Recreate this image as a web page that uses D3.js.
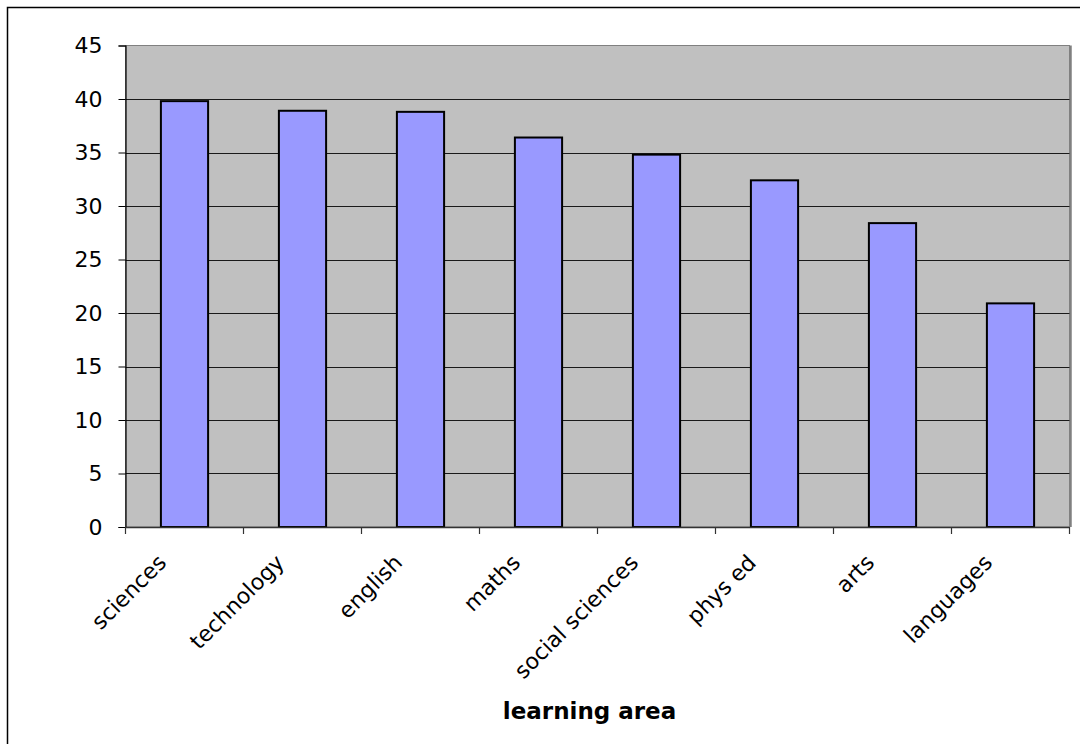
<!DOCTYPE html>
<html><head><meta charset="utf-8">
<script src="https://cdn.jsdelivr.net/npm/d3@7"></script>
<style>body{margin:0;background:#fff;}svg{display:block;}text{font-family:"DejaVu Sans",Verdana,sans-serif;}</style>
</head><body>
<svg id="c" width="1080" height="744"></svg>
<script>
const categories = ["sciences","technology","english","maths","social sciences","phys ed","arts","languages"];
const values = [39.8, 38.9, 38.8, 36.4, 34.8, 32.4, 28.4, 20.9];
const yTicks = [0,5,10,15,20,25,30,35,40,45];
const xTitle = "learning area";

const svg = d3.select("#c");
const L = 125.5, R = 1069.5, T = 45.5, B = 527;

svg.append("rect").attr("x",7.5).attr("y",7.5).attr("width",1200).attr("height",900)
  .attr("fill","#fff").attr("stroke","#000").attr("stroke-width",1.5);

const x = d3.scaleBand().domain(categories).range([L,R]).paddingInner(0.6).paddingOuter(0.3);
const y = d3.scaleLinear().domain([0,45]).range([B,T]);

// plot area
svg.append("rect").attr("x",L).attr("y",T).attr("width",R-L).attr("height",B-T)
  .attr("fill","#c0c0c0").attr("stroke","#808080").attr("stroke-width",1);
svg.append("line").attr("x1",R+1).attr("x2",R+1).attr("y1",T).attr("y2",B)
  .attr("stroke","#808080").attr("stroke-width",2.5);

// gridlines
svg.append("g").selectAll("line").data(yTicks.filter(d=>d>0 && d<45)).join("line")
  .attr("x1",L).attr("x2",R).attr("y1",d=>Math.round(y(d))+0.5).attr("y2",d=>Math.round(y(d))+0.5)
  .attr("stroke","#1a1a1a").attr("stroke-width",1);

// bars
svg.append("g").selectAll("rect").data(values).join("rect")
  .attr("x",(d,i)=>x(categories[i])).attr("width",x.bandwidth())
  .attr("y",d=>y(d)).attr("height",d=>B-y(d))
  .attr("fill","#9999ff").attr("stroke","#000").attr("stroke-width",2);

// y axis
const ya = svg.append("g").attr("transform",`translate(${L},0)`)
  .call(d3.axisLeft(y).tickValues(yTicks).tickSize(7).tickPadding(16).tickFormat(d3.format("d")));
ya.select(".domain").attr("stroke","#000").attr("stroke-width",1.2);
ya.selectAll(".tick line").attr("stroke","#000");
ya.selectAll("text").attr("font-size",22).attr("fill","#000").attr("font-family","DejaVu Sans");

// x axis ticks at category boundaries
const bounds = categories.map(c=>x(c)-x.step()*0.3).concat([R]);
svg.append("line").attr("x1",L).attr("x2",R).attr("y1",B+0.5).attr("y2",B+0.5).attr("stroke","#333").attr("stroke-width",1.5);
svg.append("g").selectAll("line").data(bounds).join("line")
  .attr("x1",d=>d).attr("x2",d=>d).attr("y1",B).attr("y2",B+7).attr("stroke","#333").attr("stroke-width",1.2);

// x labels
svg.append("g").selectAll("text").data(categories).join("text")
  .attr("transform",d=>`translate(${x(d)+x.bandwidth()/2-17},${B+37}) rotate(-45)`)
  .attr("text-anchor","end").attr("font-size",22).attr("fill","#000").text(d=>d);

// x title
svg.append("text").attr("x",589.5).attr("y",719).attr("text-anchor","middle")
  .attr("font-size",23).attr("font-weight","bold").attr("fill","#000").text(xTitle);
</script>
</body></html>
